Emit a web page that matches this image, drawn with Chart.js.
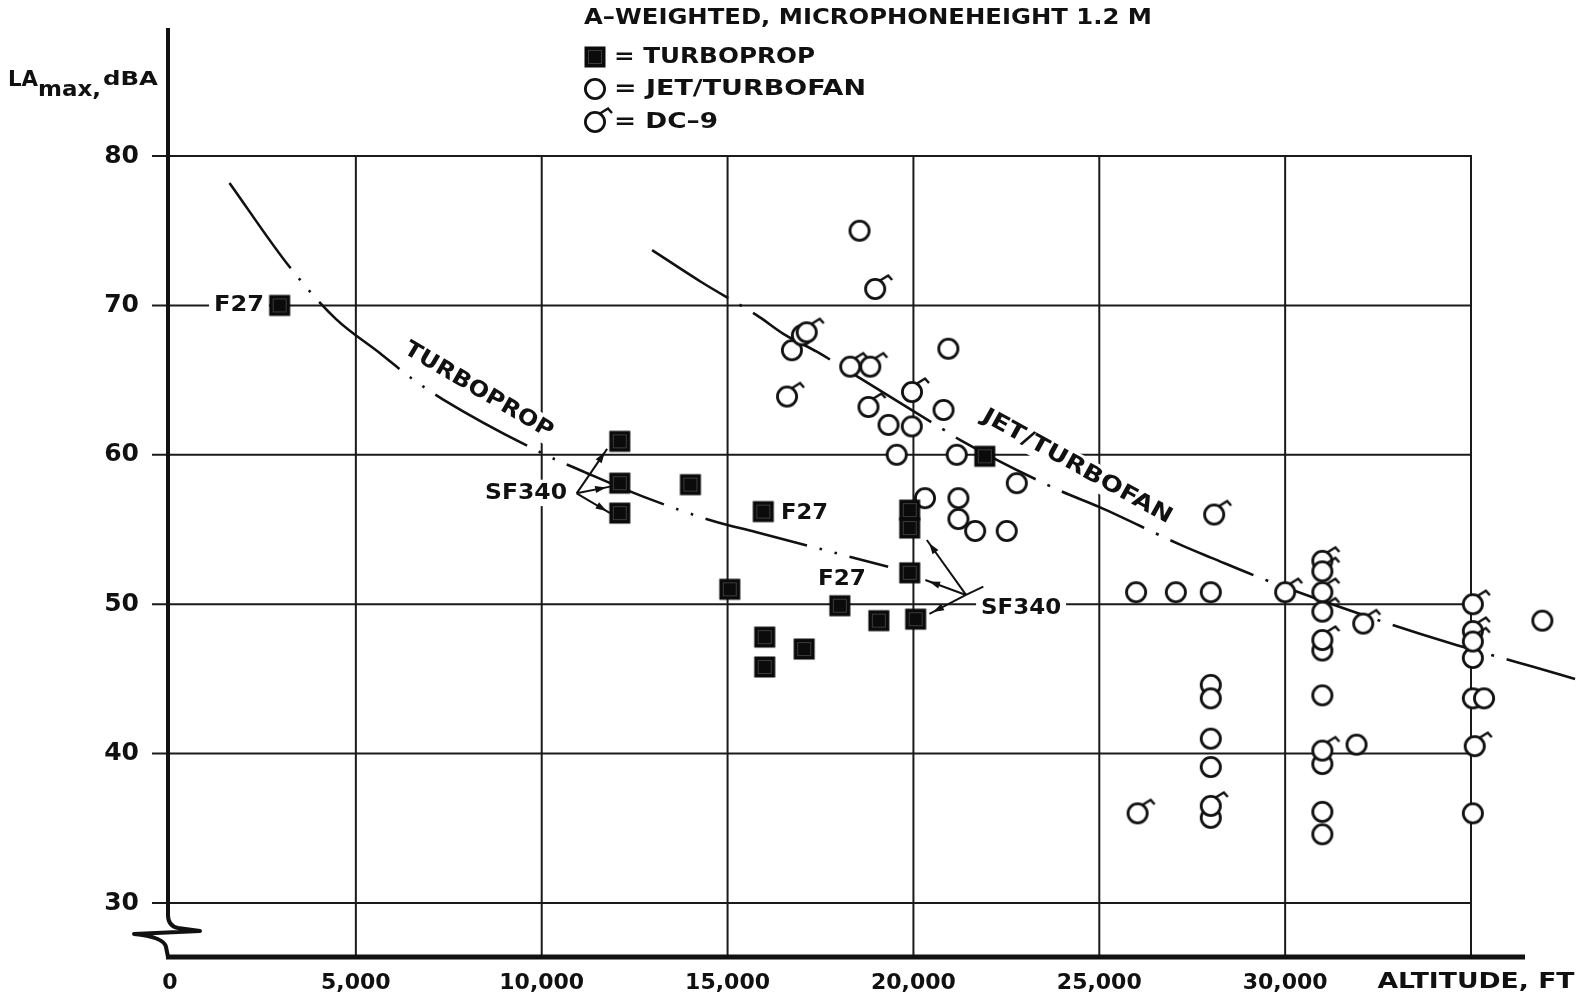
<!DOCTYPE html>
<html><head><meta charset="utf-8">
<script src="https://cdn.jsdelivr.net/npm/chart.js@4.4.1/dist/chart.umd.min.js"></script>
<style>html,body{margin:0;padding:0;background:#fff;}#wrap{width:1578px;height:1001px;}</style>
</head><body><div id="wrap"><canvas id="c" width="1578" height="1001"></canvas></div>
<script>
// ---------------- data ----------------
const xTickValues = [0, 5000, 10000, 15000, 20000, 25000, 30000, 35000];
const xTickLabels = ['0', '5,000', '10,000', '15,000', '20,000', '25,000', '30,000', 'ALTITUDE, FT'];
const yTickValues = [30, 40, 50, 60, 70, 80];
const yTickLabels = ['30', '40', '50', '60', '70', '80'];

const turbopropX = [2950, 12100, 12100, 12100, 14000, 15960, 15060, 16000, 16000, 17060, 18020, 19070, 19900, 19900, 19900, 20060, 21920];
const turbopropY = [70.0, 60.9, 58.1, 56.1, 58.0, 56.2, 51.0, 47.8, 45.8, 47.0, 49.9, 48.9, 56.3, 55.1, 52.1, 49.0, 59.9];

const jetX = [18550, 16730, 17000, 20940, 20810, 19330, 19955, 19550, 21165, 22780, 20310, 21210, 21210, 21660, 22510,
              25990, 27060, 28000, 28000, 28000, 28000, 28000, 28000, 31000, 31000, 31000, 31000, 31000, 31920,
              35050, 35050, 35350, 35050, 36920];
const jetY = [75.0, 67.0, 68.0, 67.1, 63.0, 62.0, 61.9, 60.0, 60.0, 58.1, 57.1, 57.1, 55.7, 54.9, 54.9,
              50.8, 50.8, 50.8, 44.6, 43.7, 41.0, 39.1, 35.7, 46.9, 43.9, 39.3, 36.1, 34.6, 40.6,
              46.4, 43.7, 43.7, 36.0, 48.9];

const dc9X = [18970, 17130, 16600, 18300, 18840, 19960, 18790, 28090, 26030, 28000, 30000,
              31000, 31000, 31000, 31000, 31000, 31000, 32100, 35050, 35050, 35050, 35100];
const dc9Y = [71.1, 68.2, 63.9, 65.9, 65.9, 64.2, 63.2, 56.0, 36.0, 36.5, 50.8,
              52.9, 52.2, 50.8, 49.5, 47.6, 40.2, 48.7, 50.0, 48.2, 47.5, 40.5];

const turbopropCurveX = [1600, 3210, 4460, 5650, 6400, 7350, 10100, 11100, 12730, 14700, 15730, 19320];
const turbopropCurveY = [78.2, 72.6, 69.1, 66.8, 65.3, 63.7, 60.0, 58.9, 57.2, 55.5, 54.85, 52.5];

const jetCurveX = [12970, 14270, 15870, 16500, 17400, 18780, 20800, 21250, 23940, 25010, 27250, 28020, 29500, 32540, 34430, 36260, 37390, 37800];
const jetCurveY = [73.7, 71.6, 69.2, 68.1, 66.9, 64.8, 61.7, 61.0, 57.6, 56.5, 53.9, 53.1, 51.6, 48.9, 47.4, 46.1, 45.3, 45.0];

const titleText = 'A\u2013WEIGHTED, MICROPHONEHEIGHT 1.2 M';
const legendTexts = ['= TURBOPROP', '= JET/TURBOFAN', '= DC\u20139'];
const seriesNames = ['TURBOPROP', 'JET/TURBOFAN', 'DC-9'];

// text labels anchored in data units
const dataLabels = [
  {text: 'F27', x: 2530, y: 70.0, align: 'right', w: 50, bg: true},
  {text: 'F27', x: 16440, y: 56.1, align: 'left', w: 47},
  {text: 'F27', x: 17430, y: 51.7, align: 'left', w: 48},
  {text: 'SF340', x: 10680, y: 57.45, align: 'right', w: 82, bg: true},
  {text: 'SF340', x: 21820, y: 49.75, align: 'left', w: 80, bg: true},
  {text: 'TURBOPROP', x: 8300, y: 64.3, align: 'center', w: 169, rot: 30.5, bg: true},
  {text: 'JET/TURBOFAN', x: 24400, y: 59.2, align: 'center', w: 214, rot: 29, bg: true}
];
// SF340 pointer arrows: junction and targets (data units)
const arrowGroups = [
  {from: [10940, 57.42], to: [[11760, 60.4], [11840, 57.87], [11840, 56.1]], tail: null},
  {from: [21415, 50.62], to: [[20360, 54.3], [20320, 51.62], [20430, 49.35]], tail: [21880, 51.17]}
];

// ---------------- styling ----------------
const FAMILY = "'DejaVu Sans', 'Liberation Sans', sans-serif";
const INK = '#111';
// pixel anchors of the reference frame
const PX_X0 = 170, PX_X35 = 1471, PX_Y80 = 156, PX_Y30 = 903;
const AXIS_TOP_PX = 28, AXIS_BOTTOM_PX = 957;

function makeCanvas(w, h) { const c = document.createElement('canvas'); c.width = w; c.height = h; return c; }
const squareImg = (() => {
  const c = makeCanvas(24, 24), g = c.getContext('2d');
  g.fillStyle = '#0b0b0b'; g.fillRect(1.5, 1.5, 21, 21);
  g.strokeStyle = '#3c3c3c'; g.lineWidth = 1; g.strokeRect(5.5, 5.5, 13, 13);
  return c;
})();
function ring(g, cx, cy) {
  g.beginPath(); g.arc(cx, cy, 9.6, 0, Math.PI * 2);
  g.fillStyle = '#fff'; g.fill(); g.strokeStyle = INK; g.lineWidth = 2.8; g.stroke();
}
const circleImg = (() => { const c = makeCanvas(28, 28), g = c.getContext('2d'); ring(g, 14, 14); return c; })();
const dc9Img = (() => {
  const c = makeCanvas(46, 46), g = c.getContext('2d'); ring(g, 23, 23);
  g.beginPath(); g.moveTo(27.6, 14.8); g.lineTo(36, 9.5); g.lineTo(40, 14);
  g.strokeStyle = INK; g.lineWidth = 2.5; g.lineJoin = 'miter'; g.lineCap = 'butt'; g.stroke();
  return c;
})();

const zip = (xs, ys) => xs.map((x, i) => ({x, y: ys[i]}));

function fitText(ctx, text, x, y, size, width, align, rot, bg, baseline) {
  ctx.save();
  ctx.font = `bold ${size}px ${FAMILY}`;
  const m = ctx.measureText(text).width;
  const sx = width ? width / m : 1;
  const w = m * sx;
  ctx.translate(x, y);
  if (rot) ctx.rotate(rot * Math.PI / 180);
  const left = align === 'left' ? 0 : align === 'right' ? -w : -w / 2;
  if (bg) { ctx.fillStyle = '#fff'; ctx.fillRect(left - 5, -size * 0.6, w + 10, size * 1.2); }
  ctx.scale(sx, 1);
  ctx.textAlign = 'left'; ctx.textBaseline = baseline || 'middle'; ctx.fillStyle = INK;
  ctx.fillText(text, left / sx, 0);
  ctx.restore();
}

function arrowLine(ctx, x1, y1, x2, y2) {
  ctx.beginPath(); ctx.moveTo(x1, y1); ctx.lineTo(x2, y2); ctx.stroke();
  const a = Math.atan2(y2 - y1, x2 - x1), L = 11, W = 3.6;
  const bx = x2 - Math.cos(a) * 4, by = y2 - Math.sin(a) * 4;
  ctx.beginPath();
  ctx.moveTo(bx, by);
  ctx.lineTo(bx - Math.cos(a) * L - Math.sin(a) * W, by - Math.sin(a) * L + Math.cos(a) * W);
  ctx.lineTo(bx - Math.cos(a) * L + Math.sin(a) * W, by - Math.sin(a) * L - Math.cos(a) * W);
  ctx.closePath(); ctx.fill();
}

const decor = {
  id: 'decor',
  beforeDatasetsDraw(chart) {
    const {ctx, scales: {x: xs, y: ys}} = chart;
    const px = v => xs.getPixelForValue(v), py = v => ys.getPixelForValue(v);
    const x0 = px(0) - 2;
    ctx.save();
    ctx.strokeStyle = '#1a1a1a'; ctx.lineWidth = 2;
    const xEnd = px(xTickValues[xTickValues.length - 1]);
    yTickValues.forEach(v => {
      const y = py(v);
      ctx.beginPath(); ctx.moveTo(x0 - 16, y); ctx.lineTo(xEnd, y); ctx.stroke();
    });
    const yTop = py(yTickValues[yTickValues.length - 1]);
    xTickValues.slice(1).forEach(v => {
      const x = px(v);
      ctx.beginPath(); ctx.moveTo(x, yTop - 1); ctx.lineTo(x, AXIS_BOTTOM_PX); ctx.stroke();
    });
    // y axis with break
    ctx.strokeStyle = INK; ctx.lineWidth = 4; ctx.lineJoin = 'round';
    const yb = AXIS_BOTTOM_PX;
    ctx.beginPath();
    ctx.moveTo(x0, AXIS_TOP_PX);
    ctx.lineTo(x0, yb - 42);
    ctx.quadraticCurveTo(x0, yb - 31, x0 + 10, yb - 29);
    ctx.lineTo(x0 + 32, yb - 26);
    ctx.lineTo(x0 - 34, yb - 23);
    ctx.quadraticCurveTo(x0 - 4, yb - 20, x0 - 2, yb - 10);
    ctx.lineTo(x0, yb);
    ctx.stroke();
    // x axis
    ctx.lineWidth = 5; ctx.lineCap = 'butt';
    ctx.beginPath(); ctx.moveTo(x0 - 2, yb); ctx.lineTo(1525, yb); ctx.stroke();
    // labels
    dataLabels.forEach(l => fitText(ctx, l.text, px(l.x), py(l.y), 22, l.w, l.align, l.rot || 0, l.bg));
    ctx.restore();
  },
  afterDatasetsDraw(chart) {
    const {ctx, scales: {x: xs, y: ys}} = chart;
    const px = v => xs.getPixelForValue(v), py = v => ys.getPixelForValue(v);
    ctx.save();
    ctx.strokeStyle = INK; ctx.fillStyle = INK; ctx.lineWidth = 2;
    arrowGroups.forEach(gp => {
      const fx = px(gp.from[0]), fy = py(gp.from[1]);
      gp.to.forEach(t => arrowLine(ctx, fx, fy, px(t[0]), py(t[1])));
      if (gp.tail) { ctx.beginPath(); ctx.moveTo(fx, fy); ctx.lineTo(px(gp.tail[0]), py(gp.tail[1])); ctx.stroke(); }
    });
    ctx.restore();
  },
  afterDraw(chart) {
    const ctx = chart.ctx, xs = chart.scales.x;
    ctx.save();
    // last x tick label (axis name) drawn wide like the original lettering
    const lastI = xTickValues.length - 1;
    fitText(ctx, xTickLabels[lastI], xs.getPixelForValue(xTickValues[lastI]) + 5, 982, 22, 197, 'center');
    fitText(ctx, titleText, 584, 18, 22, 568, 'left');
    const rowsY = [57, 89, 122];
    const imgs = [squareImg, circleImg, dc9Img];
    const widths = [201, 252, 104];
    rowsY.forEach((y, i) => {
      const im = imgs[i];
      ctx.drawImage(im, 595 - im.width / 2, y - im.height / 2);
      fitText(ctx, legendTexts[i], 614, y, 22, widths[i], 'left');
    });
    // y-axis title: LA(max), dBA
    fitText(ctx, 'LA', 8, 86, 22, 30, 'left', 0, false, 'alphabetic');
    fitText(ctx, 'max,', 38, 96, 22, 63, 'left', 0, false, 'alphabetic');
    fitText(ctx, 'dBA', 103, 85, 19, 55, 'left', 0, false, 'alphabetic');
    ctx.restore();
  }
};

const chart = new Chart(document.getElementById('c'), {
  type: 'scatter',
  data: {
    datasets: [
      {label: seriesNames[0], data: zip(turbopropX, turbopropY), pointStyle: squareImg, pointRadius: 10, order: 0},
      {label: seriesNames[1], data: zip(jetX, jetY), pointStyle: circleImg, pointRadius: 10, order: 2},
      {label: seriesNames[2], data: zip(dc9X, dc9Y), pointStyle: dc9Img, pointRadius: 10, order: 1},
      {type: 'line', label: 'turboprop trend', data: zip(turbopropCurveX, turbopropCurveY), showLine: true,
       borderColor: INK, borderWidth: 2.6, borderDash: [105, 13, 2.5, 13, 2.5, 13], pointRadius: 0,
       cubicInterpolationMode: 'monotone', fill: false, order: 5},
      {type: 'line', label: 'jet trend', data: zip(jetCurveX, jetCurveY), showLine: true,
       borderColor: INK, borderWidth: 2.6, borderDash: [90, 13, 3, 13], pointRadius: 0,
       cubicInterpolationMode: 'monotone', fill: false, order: 6}
    ]
  },
  options: {
    responsive: false, animation: false, devicePixelRatio: 1,
    layout: {padding: {top: AXIS_TOP_PX, left: 0, right: 0, bottom: 0}, autoPadding: false},
    plugins: {legend: {display: false}, tooltip: {enabled: false}, title: {display: false}},
    scales: {
      x: {
        type: 'linear', min: 0, max: 37878,
        grid: {display: false, drawTicks: false}, border: {display: false},
        afterBuildTicks: s => { s.ticks = xTickValues.map(v => ({value: v})); },
        afterFit: s => { s.height = 42; s.paddingLeft = 0; s.paddingRight = 0; },
        ticks: {callback: (v, i) => (i === xTickValues.length - 1 ? '' : xTickLabels[i]), color: INK, padding: 11,
                maxRotation: 0, autoSkip: false, font: {family: FAMILY, size: 22, weight: 'bold'}}
      },
      y: {
        type: 'linear', min: 26.25, max: 88.57,
        grid: {display: false, drawTicks: false}, border: {display: false},
        afterBuildTicks: s => { s.ticks = yTickValues.map(v => ({value: v})); },
        afterFit: s => { s.width = PX_X0; s.paddingTop = 0; s.paddingBottom = 0; },
        ticks: {callback: (v, i) => yTickLabels[i], color: INK, padding: 31, autoSkip: false,
                font: {family: FAMILY, size: 25, weight: 'bold'}}
      }
    }
  },
  plugins: [decor]
});

// calibrate the value range so the grid lands on the reference's pixel frame
(function calibrate() {
  const a = chart.chartArea;
  const pxPerDb = (PX_Y30 - PX_Y80) / 50;
  const pxPerFt = (PX_X35 - PX_X0) / 35000;
  chart.options.scales.y.max = 80 + (PX_Y80 - a.top) / pxPerDb;
  chart.options.scales.y.min = 30 - (a.bottom - PX_Y30) / pxPerDb;
  chart.options.scales.x.min = -(PX_X0 - a.left) / pxPerFt;
  chart.options.scales.x.max = 35000 + (a.right - PX_X35) / pxPerFt;
  chart.update();
})();
</script></body></html>
